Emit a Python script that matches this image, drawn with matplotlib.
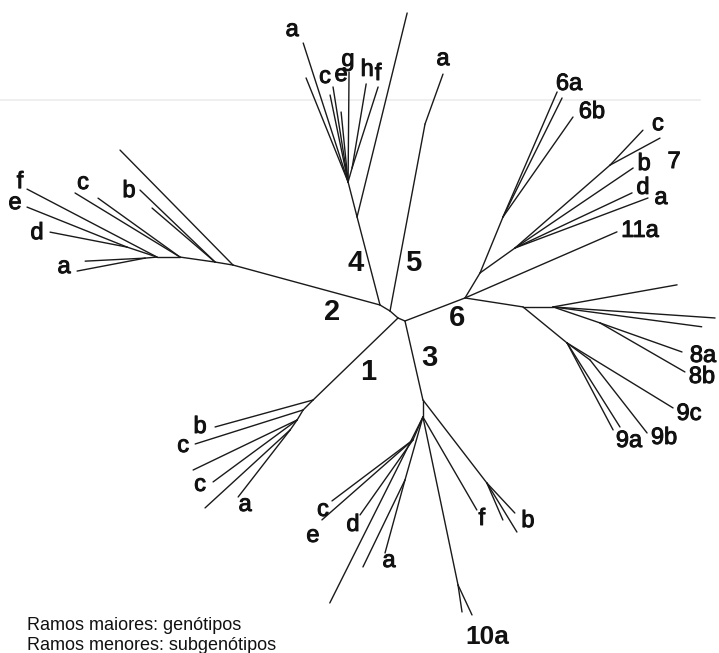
import numpy as np
import matplotlib
matplotlib.use('Agg')
import matplotlib.pyplot as plt
import matplotlib.patheffects as pe

plt.rcParams['font.family'] = ['Liberation Sans', 'DejaVu Sans']

# unrooted HCV tree: (node, parent, branch length, branch angle in degrees)
core = [("M", "R", 10.6, 138.8), ("A", "M", 11.7, 149.0), ("B", "R", 7.6, -23.2)]

geno1 = [("N1", "R", 118.0, -136.0),
         ("1b", "N1", 101.7, 195.4), ("N1a", "N1", 14.1, 225.0),
         ("1c1", "N1a", 113.2, 197.5), ("N1b", "N1a", 11.7, 239.0),
         ("1u1", "N1b", 115.4, 205.7), ("1c2", "N1b", 104.4, 216.4),
         ("N1c", "N1b", 12.2, 235.0), ("1u2", "N1c", 115.4, 222.5),
         ("1a", "N1c", 84.8, 232.2)]

geno2 = [("N2", "A", 152.3, 164.8),
         ("2u", "N2", 161.2, 134.5), ("N2b", "N2", 18.2, 170.5),
         ("2b", "N2b", 104.0, 136.2), ("2b2", "N2b", 83.0, 139.4),
         ("N2c", "N2b", 35.4, 171.9), ("2c", "N2c", 123.0, 148.6),
         ("2c2", "N2c", 101.0, 144.3), ("N2d", "N2c", 23.0, 180.0),
         ("2f", "N2d", 146.7, 152.4), ("N2de", "N2d", 31.6, 161.6),
         ("2e", "N2de", 107.7, 158.2), ("2d", "N2de", 78.4, 169.0),
         ("N2a", "N2d", 12.0, 185.0), ("2a1", "N2a", 60.0, 182.9),
         ("2a2", "N2a", 69.2, 190.8)]

geno3 = [("N3", "B", 81.0, -77.2),
         ("Nb3", "N3", 104.8, -52.4), ("3b1", "Nb3", 41.0, -47.0),
         ("3b2", "Nb3", 57.5, -58.5), ("3b3", "Nb3", 40.3, -66.6),
         ("N3b", "N3", 17.0, -90.0), ("3f", "N3b", 107.5, -59.9),
         ("N10", "N3b", 171.6, -78.2), ("10a", "N10", 33.1, -65.0),
         ("10a2", "N10", 27.3, -81.6), ("3u", "N3b", 208.0, -116.6),
         ("Na3", "N3b", 65.5, -105.9), ("3a1", "Na3", 75.7, -105.3),
         ("3a2", "Na3", 96.6, -115.8), ("N3c", "N3b", 25.0, -113.5),
         ("3c", "N3c", 101.4, -143.0), ("3e", "N3c", 121.2, -138.7),
         ("3d", "N3c", 91.8, -125.2)]

geno4 = [("N4", "A", 91.0, 104.6),
         ("4u", "N4", 210.0, 76.2), ("N4b", "N4", 36.1, 104.4),
         ("4a", "N4b", 146.0, 107.9), ("4a2", "N4b", 112.2, 112.0),
         ("4c1", "N4b", 88.8, 101.7), ("4c2", "N4b", 96.2, 99.0),
         ("4e", "N4b", 70.3, 95.7), ("4g", "N4b", 110.0, 89.5),
         ("N4hf", "N4b", 14.6, 74.0), ("4h", "N4hf", 85.2, 80.5),
         ("4f", "N4hf", 85.0, 72.2)]

geno5 = [("N5", "M", 190.2, 79.4), ("5a", "N5", 53.1, 70.2)]

geno6 = [("N6", "B", 64.3, 21.0),
         ("N6a", "N6", 29.2, 59.0), ("N6b", "N6a", 60.5, 67.7),
         ("6a", "N6b", 136.2, 66.6), ("6a2", "N6b", 132.8, 63.6),
         ("6b", "N6b", 122.0, 55.0), ("N7", "N6a", 43.0, 35.5),
         ("N7c", "N7", 126.0, 41.1), ("7c", "N7c", 48.0, 46.7),
         ("7c2", "N7c", 56.8, 28.4), ("7b", "N7", 142.6, 34.1),
         ("7d", "N7", 129.3, 25.2), ("7a", "N7", 142.0, 20.6),
         ("11a", "N6", 165.7, 23.5)]

geno89 = [("N89", "N6", 58.7, -8.8), ("N8", "N89", 30.0, 0.0),
          ("8u", "N8", 126.0, 10.1), ("8r", "N8", 162.4, -3.9),
          ("8r2", "N8", 150.0, -7.6), ("N8ab", "N8", 49.6, -18.8),
          ("8a", "N8ab", 87.0, -19.5), ("8b", "N8ab", 98.1, -30.0),
          ("N9", "N89", 56.9, -39.3), ("9c", "N9", 124.3, -31.5),
          ("N9ab", "N9", 28.6, -36.5), ("9b", "N9ab", 92.6, -52.0),
          ("9a", "N9", 99.3, -57.8), ("9a2", "N9", 98.4, -62.1)]

# major branch labels (genotypes): text, anchor node
geno_text = ["1", "2", "3", "4", "5", "6"]
geno_node = ["R", "A", "B", "A", "M", "N6"]

# minor branch labels (subtypes): tip node, text
tip_nodes = ["2f", "2e", "2d", "2a2", "2c", "2b",
             "1b", "1c1", "1c2", "1a",
             "3c", "3e", "3d", "3a1", "3f", "3b2", "10a",
             "4a", "4c2", "4e", "4g", "4h", "4f", "5a",
             "6a", "6b", "7c", "7b", "7b", "7d", "7a", "11a",
             "8a", "8b", "9c", "9a", "9b"]
tip_text = ["f", "e", "d", "a", "c", "b",
            "b", "c", "c", "a",
            "c", "e", "d", "a", "f", "b", "10a",
            "a", "c", "e", "g", "h", "f", "a",
            "6a", "6b", "c", "b", "7", "d", "a", "11a",
            "8a", "8b", "9c", "9a", "9b"]

legend_lines = ["Ramos maiores: genótipos", "Ramos menores: subgenótipos"]

# label placement offsets in pixels (right, down)
geno_off = [(-30, 54), (-48, 7), (24, 37), (-24, -42), (23, -48), (-8, 20)]
tip_off = [(-7, -7), (-12, -4), (-13, 1), (-13, -4), (8, -10), (-11, 1),
           (-15, 0), (-12, 2), (-13, 3), (7, 8),
           (-9, 9), (-9, 16), (-7, 10), (4, 8), (5, 9), (11, -11), (15, 22),
           (-11, -13), (-8, -10), (0, -37), (-1, -12), (1, -14), (0, -13), (0, -15),
           (12, -8), (19, -5), (15, -6), (11, -4), (41, -6), (11, -5), (13, 0), (23, -1),
           (21, 4), (17, 5), (16, 6), (9, 14), (17, 5)]

branches = core + geno1 + geno2 + geno3 + geno4 + geno5 + geno6 + geno89
pos = {"R": np.array([0.0, 0.0])}
for name, parent, length, ang in branches:
    t = np.radians(ang)
    pos[name] = pos[parent] + length * np.array([np.cos(t), np.sin(t)])

fig = plt.figure(figsize=(7.19, 6.53), dpi=100)
ax = fig.add_axes([0, 0, 1, 1])
ax.set_xlim(-398, 321)
ax.set_ylim(-335, 318)
ax.axis('off')


def px(x, y):
    return x - 398, 318 - y


# faint rule showing through from the scanned page
ax.plot(*zip(px(0, 100), px(700, 100)), color='#ececec', lw=1.2, zorder=0)

for name, parent, length, ang in branches:
    p0, p1 = pos[parent], pos[name]
    ax.plot([p0[0], p1[0]], [p0[1], p1[1]], color='#1a1a1a', lw=1.0,
            solid_capstyle='round', zorder=2)

thick = [pe.withStroke(linewidth=0.7, foreground='#111111')]

for t, n, (dx, dy) in zip(geno_text, geno_node, geno_off):
    ax.text(pos[n][0] + dx, pos[n][1] - dy, t, fontsize=21, fontweight='bold',
            ha='center', va='center', color='#111111', zorder=3)

for n, t, (dx, dy) in zip(tip_nodes, tip_text, tip_off):
    big = t == "10a"
    ax.text(pos[n][0] + dx, pos[n][1] - dy, t, fontsize=19 if big else 17,
            fontweight='bold' if big else 'normal',
            ha='center', va='center', color='#111111', zorder=3,
            path_effects=None if big else thick)

for i, line in enumerate(legend_lines):
    ax.text(*px(27, 626 + 19 * i), line, fontsize=13, va='center',
            color='#111111', zorder=3)

fig.savefig('out.png', dpi=100, facecolor='white')
